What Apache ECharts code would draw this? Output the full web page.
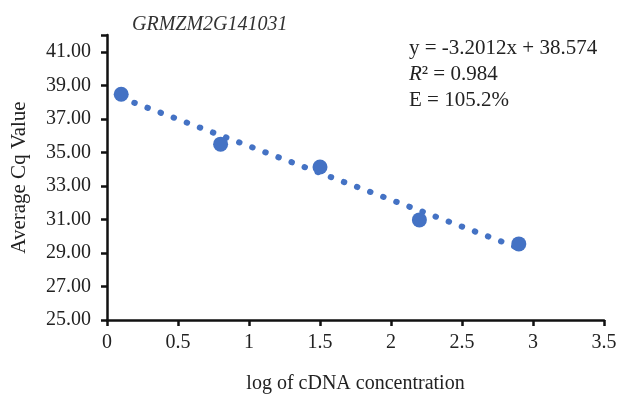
<!DOCTYPE html>
<html>
<head>
<meta charset="utf-8">
<script src="https://cdn.jsdelivr.net/npm/echarts@6/dist/echarts.min.js"></script>
<style>html,body{margin:0;padding:0;background:#fff}#c{width:621px;height:394px}</style>
</head>
<body>
<div id="c"></div>
<script>
var logConc = [0.1, 0.8, 1.5, 2.2, 2.9];
var avgCq = [38.47, 35.49, 34.13, 30.97, 29.54];
var trendX = [0.1, 2.9];
var trendY = [38.254, 29.291];
var chartTitle = 'GRMZM2G141031';
var eqLines = ['y = -3.2012x + 38.574', 'R² = 0.984', 'E = 105.2%'];

var blue = '#4472C4';
var serif = 'Liberation Serif';
var chart = echarts.init(document.getElementById('c'), null, {renderer: 'canvas'});
chart.setOption({
  animation: false,
  backgroundColor: '#fff',
  textStyle: {fontFamily: serif},
  title: [{
    text: chartTitle, left: 127, top: 10,
    textStyle: {fontFamily: serif, fontStyle: 'italic', fontWeight: 'normal', fontSize: 20, color: '#333'}
  }, {
    text: eqLines[0] + '\n{i|R}' + eqLines[1].slice(1) + '\n' + eqLines[2],
    left: 404, top: 30,
    textStyle: {fontFamily: serif, fontWeight: 'normal', fontSize: 21, color: '#222', lineHeight: 26,
      rich: {i: {fontStyle: 'italic', fontFamily: serif, fontSize: 21, color: '#222'}}}
  }],
  grid: {left: 107, right: 17, top: 35, bottom: 74, outerBoundsMode: 'none', containLabel: false},
  xAxis: {
    type: 'value', min: 0, max: 3.5, interval: 0.5,
    name: 'log of cDNA concentration', nameLocation: 'middle', nameGap: 54,
    nameTextStyle: {fontFamily: serif, fontSize: 20, color: '#222'},
    axisLine: {show: true, lineStyle: {color: '#111', width: 2.5}},
    axisTick: {show: true, length: 6, lineStyle: {color: '#111', width: 2.5}},
    axisLabel: {fontFamily: serif, fontSize: 20, color: '#222', margin: 13},
    splitLine: {show: false}
  },
  yAxis: {
    type: 'value', min: 25, max: 42, interval: 2,
    name: 'Average Cq Value', nameLocation: 'middle', nameGap: 77, nameRotate: 90,
    nameTextStyle: {fontFamily: serif, fontSize: 21, color: '#222'},
    axisLine: {show: true, onZero: false, lineStyle: {color: '#111', width: 2.5}},
    axisTick: {show: true, length: 6, lineStyle: {color: '#111', width: 2.5}},
    axisLabel: {fontFamily: serif, fontSize: 20, color: '#222', margin: 16,
      formatter: function (v) { return v > 41 ? '' : v.toFixed(2); }},
    splitLine: {show: false}
  },
  series: [{
    type: 'line', z: 2, symbol: 'none',
    data: trendX.map(function (x, i) { return [x, trendY[i]]; }),
    lineStyle: {color: blue, width: 6, type: [0.5, 13.5], cap: 'round'}
  }, {
    type: 'scatter', z: 3, symbolSize: 15,
    data: logConc.map(function (x, i) { return [x, avgCq[i]]; }),
    itemStyle: {color: blue, opacity: 1}
  }]
});
</script>
</body>
</html>
